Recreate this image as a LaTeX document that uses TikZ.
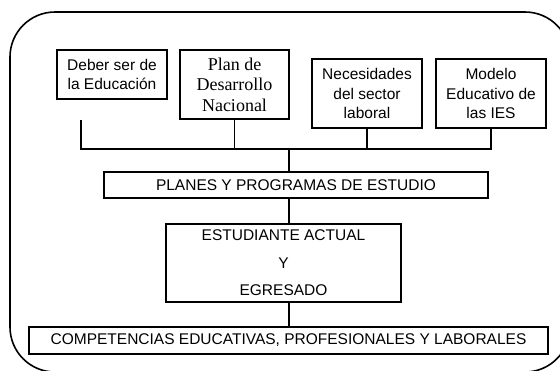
\documentclass[tikz,border=0pt]{standalone}
\usepackage{fontspec}
\setmainfont{Liberation Sans}
\newfontfamily\serifb{Liberation Serif}
\begin{document}
\begin{tikzpicture}[x=1pt,y=-1pt,
  box/.style={draw,line width=1.5pt,inner sep=0pt,align=center,
    font=\fontsize{15.5}{19.5}\selectfont},
  link/.style={line width=1.5pt}]
\useasboundingbox (0,0) rectangle (560,370);
% outer frame, partly cut by the picture's edge
\begin{scope}
\clip (0,0) rectangle (560,370);
\draw[line width=1.6pt,rounded corners=45pt] (10,12) rectangle (570,372);
\end{scope}
% top boxes
\node[box,minimum width=110pt,minimum height=49pt] (b1) at (112,74.5) {Deber ser de\\la Educación};
\node[box,minimum width=109pt,minimum height=69pt,font=\serifb\fontsize{18}{20.5}\selectfont] (b2) at (234.5,84.5) {Plan de\\Desarrollo\\Nacional};
\node[box,minimum width=110pt,minimum height=69pt] (b3) at (367,93.5) {Necesidades\\del sector\\laboral};
\node[box,minimum width=110pt,minimum height=69pt] (b4) at (491,93.5) {Modelo\\Educativo de\\las IES};
% middle and bottom boxes
\node[box,minimum width=384pt,minimum height=26pt] (pl) at (296,185) {PLANES Y PROGRAMAS DE ESTUDIO};
\node[box,minimum width=235pt,minimum height=78pt,font=\fontsize{15.5}{27.5}\selectfont] (es) at (283.5,263) {ESTUDIANTE ACTUAL\\Y\\EGRESADO};
\node[box,minimum width=519pt,minimum height=27pt] (co) at (288.5,340.5) {COMPETENCIAS EDUCATIVAS, PROFESIONALES Y LABORALES};
% connectors
\coordinate (d1) at (81,120);
\coordinate (bl) at (81,149);
\coordinate (br) at (492,149);
\coordinate (bus) at (289,149);
\draw[link] (d1) -- (bl) -- (br);
\draw[link] (b2.south) -- (b2.south |- bus);
\draw[link] (b3.south) -- (b3.south |- bus);
\draw[link] (b4.south) -- (b4.south |- bus);
\draw[link] (bus) -- (pl.north -| bus);
\draw[link] (pl.south -| bus) -- (es.north -| bus);
\draw[link] (es.south -| bus) -- (co.north -| bus);
\end{tikzpicture}
\end{document}
